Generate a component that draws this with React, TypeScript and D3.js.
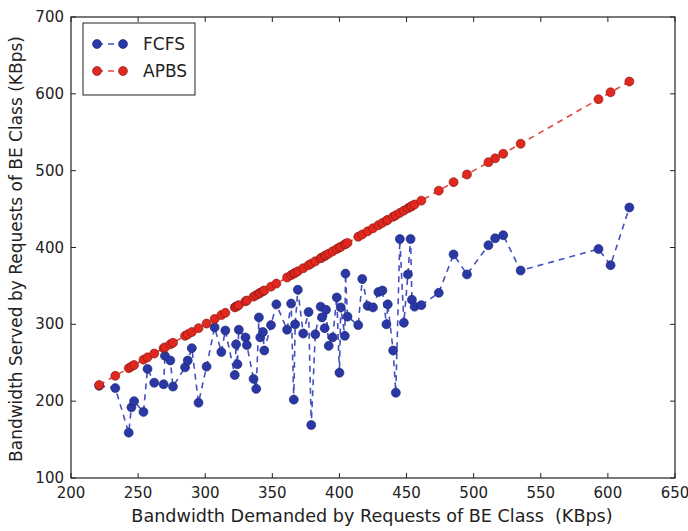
import React from "react";
import * as d3 from "d3";

const demanded = [221, 233, 243, 245, 247, 254, 257, 262, 269, 270, 274, 276, 285, 287, 290, 295, 301, 307, 312, 315, 322, 323, 324, 325, 330, 331, 336, 338, 340, 341, 343, 344, 349, 353, 361, 364, 366, 367, 369, 373, 377, 379, 382, 386, 387, 389, 390, 392, 395, 398, 400, 401, 404, 404.5, 406, 414, 417, 421, 425, 429, 432, 435, 436, 440, 442, 445, 448, 451, 453, 454, 456, 461, 474, 485, 495, 511, 516, 522, 535, 593, 602, 616];
const fcfs = [220, 217, 159, 192, 200, 186, 242, 224, 222, 259, 253, 219, 244, 253, 269, 198, 245, 296, 264, 292, 234, 274, 248, 293, 283, 273, 229, 216, 309, 283, 290, 266, 299, 326, 293, 327, 202, 300, 345, 288, 316, 169, 287, 323, 309, 295, 319, 272, 283, 335, 237, 322, 285, 366, 310, 299, 359, 324, 322, 342, 344, 300, 326, 266, 211, 411, 302, 365, 411, 332, 323, 325, 341, 391, 365, 403, 412, 416, 370, 398, 377, 452];
const apbs = [221, 233, 243, 245, 247, 254, 257, 262, 269, 270, 274, 276, 285, 287, 290, 295, 301, 307, 312, 315, 322, 323, 324, 325, 330, 331, 336, 338, 340, 341, 343, 344, 349, 353, 361, 364, 366, 367, 369, 373, 377, 379, 382, 386, 387, 389, 390, 392, 395, 398, 400, 401, 404, 404.5, 406, 414, 417, 421, 425, 429, 432, 435, 436, 440, 442, 445, 448, 451, 453, 454, 456, 461, 474, 485, 495, 511, 516, 522, 535, 593, 602, 616];
const xTicks = [200, 250, 300, 350, 400, 450, 500, 550, 600, 650];
const yTicks = [100, 200, 300, 400, 500, 600, 700];
const seriesNames = ["FCFS", "APBS"];

const W = 688, H = 531;
const M = { left: 71, right: 13, top: 17, bottom: 53 };
const FONT = "DejaVu Sans, sans-serif";

const BLUE_FILL = "#2a38a6";
const BLUE_LINE = "#4550c0";
const RED_FILL = "#e2281e";
const RED_LINE = "#e04a44";

export default function App() {
  const x = d3.scaleLinear().domain([200, 650]).range([M.left, W - M.right]);
  const y = d3.scaleLinear().domain([100, 700]).range([H - M.bottom, M.top]);
  const line = d3.line<[number, number]>().x(d => x(d[0])).y(d => y(d[1]));
  const blueData: [number, number][] = demanded.map((d, i) => [d, fcfs[i]]);
  const redData: [number, number][] = demanded.map((d, i) => [d, apbs[i]]);
  const x0 = M.left, x1 = W - M.right, y0 = M.top, y1 = H - M.bottom;
  const tl = 5;

  const series = [
    { name: seriesNames[0], data: blueData, fill: BLUE_FILL, stroke: BLUE_LINE, edge: "#1a2270" },
    { name: seriesNames[1], data: redData, fill: RED_FILL, stroke: RED_LINE, edge: "#7a1510" },
  ];

  return (
    <svg width={W} height={H} style={{ position: "absolute", left: 0, top: 0, background: "#fff" }} fontFamily={FONT}>
      <rect x={0} y={0} width={W} height={H} fill="#fff" />
      {series.map(s => (
        <g key={s.name}>
          <path d={line(s.data) || ""} fill="none" stroke={s.stroke} strokeWidth={1.6} strokeDasharray="6,5" />
          {s.data.map((d, i) => (
            <circle key={i} cx={x(d[0])} cy={y(d[1])} r={4.5} fill={s.fill} stroke={s.edge} strokeWidth={0.6} />
          ))}
        </g>
      ))}
      <rect x={x0} y={y0} width={x1 - x0} height={y1 - y0} fill="none" stroke="#222" strokeWidth={1.2} />
      {xTicks.map(t => (
        <g key={"x" + t}>
          <line x1={x(t)} x2={x(t)} y1={y1} y2={y1 - tl} stroke="#222" />
          <line x1={x(t)} x2={x(t)} y1={y0} y2={y0 + tl} stroke="#222" />
          <text x={x(t)} y={y1 + 20} textAnchor="middle" fontSize={15} fill="#222">{t}</text>
        </g>
      ))}
      {yTicks.map(t => (
        <g key={"y" + t}>
          <line x1={x0} x2={x0 + tl} y1={y(t)} y2={y(t)} stroke="#222" />
          <line x1={x1} x2={x1 - tl} y1={y(t)} y2={y(t)} stroke="#222" />
          <text x={x0 - 7} y={y(t) + 5} textAnchor="end" fontSize={15} fill="#222">{t}</text>
        </g>
      ))}
      <text x={372} y={H - 9} textAnchor="middle" fontSize={17.6} fill="#222" style={{ whiteSpace: "pre" }}>
        {"Bandwidth Demanded by Requests of BE Class  (KBps)"}
      </text>
      <text transform={`translate(22,${249}) rotate(-90)`} textAnchor="middle" fontSize={17} fill="#222">
        Bandwidth Served by Requests of BE Class (KBps)
      </text>
      <g>
        <rect x={83} y={23} width={112} height={72} fill="#fff" stroke="#222" strokeWidth={1} />
        {series.map((s, i) => {
          const ly = 44 + i * 27;
          return (
            <g key={"l" + s.name}>
              <line x1={97} x2={123} y1={ly} y2={ly} stroke={s.stroke} strokeWidth={1.6} strokeDasharray="6,5" />
              <circle cx={97} cy={ly} r={4.5} fill={s.fill} stroke={s.edge} strokeWidth={0.6} />
              <circle cx={123} cy={ly} r={4.5} fill={s.fill} stroke={s.edge} strokeWidth={0.6} />
              <text x={143} y={ly + 6} fontSize={17} fill="#222">{s.name}</text>
            </g>
          );
        })}
      </g>
    </svg>
  );
}
